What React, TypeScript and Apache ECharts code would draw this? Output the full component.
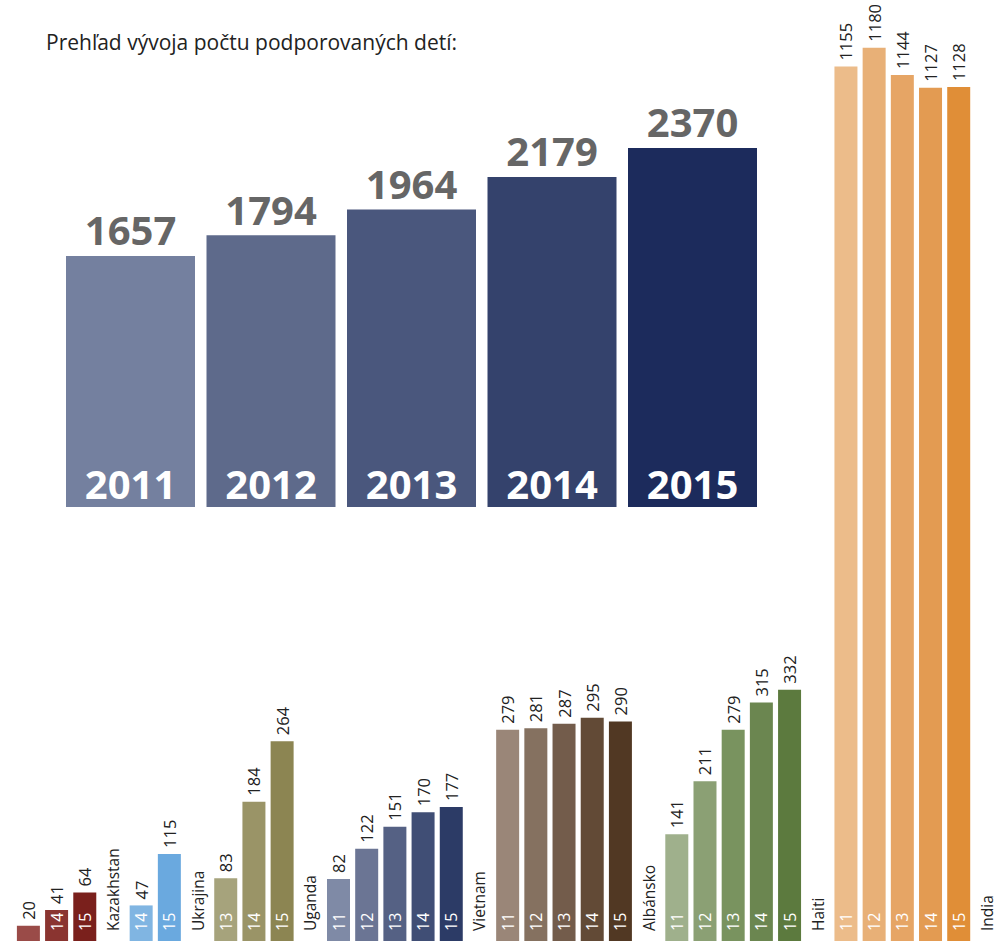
import React, { useEffect, useRef } from "react";
import * as echarts from "echarts";

const TITLE = "Prehľad vývoja počtu podporovaných detí:";

const years = ["2011", "2012", "2013", "2014", "2015"];
const totals = [1657, 1794, 1964, 2179, 2370];
const totalColors = ["#74809f", "#5e6a8b", "#4a577d", "#34426c", "#1c2b5c"];

const countries = ["Kazakhstan", "Ukrajina", "Uganda", "Vietnam", "Albánsko", "Haiti", "India"];
const countryYears = [
  ["13", "14", "15"],
  ["14", "15"],
  ["13", "14", "15"],
  ["11", "12", "13", "14", "15"],
  ["11", "12", "13", "14", "15"],
  ["11", "12", "13", "14", "15"],
  ["11", "12", "13", "14", "15"],
];
const kazakhstan = [20, 41, 64];
const ukrajina = [47, 115];
const uganda = [83, 184, 264];
const vietnam = [82, 122, 151, 170, 177];
const albansko = [279, 281, 287, 295, 290];
const haiti = [141, 211, 279, 315, 332];
const india = [1155, 1180, 1144, 1127, 1128];
const countryValues = [kazakhstan, ukrajina, uganda, vietnam, albansko, haiti, india];

const countryColors = [
  ["#9a4b48", "#8a3430", "#7a201c"],
  ["#80b5e2", "#6aa9df"],
  ["#a6a37c", "#9a9467", "#8c8552"],
  ["#7f8aa6", "#6b7594", "#556184", "#404e75", "#2c3b66"],
  ["#9a8678", "#857160", "#735c4b", "#624a36", "#513823"],
  ["#9fb08c", "#8ba074", "#79935f", "#6b8650", "#5c7a3e"],
  ["#ecbc8a", "#e8b077", "#e6a565", "#e39b52", "#e08e37"],
];

const FONT = "Open Sans";

export default function App() {
  const ref = useRef<HTMLDivElement>(null);

  useEffect(() => {
    if (!ref.current) return;
    const chart = echarts.init(ref.current, undefined, { renderer: "svg" });

    const cats: string[] = [];
    const barData: any[] = [];
    const overlayData: any[] = [];
    countries.forEach((c, ci) => {
      countryValues[ci].forEach((v, i) => {
        cats.push(c + "-" + countryYears[ci][i]);
        barData.push({ value: v, itemStyle: { color: countryColors[ci][i] } });
        overlayData.push({
          value: v,
          name: countryYears[ci][i],
          label: { show: v >= 40, color: "#ffffff", fontSize: 16, formatter: countryYears[ci][i] },
        });
      });
      cats.push(c);
      barData.push({ value: null });
      overlayData.push({
        value: 0,
        name: c,
        label: { show: true, color: "#222222", fontSize: 15.5, formatter: c },
      });
    });

    chart.setOption({
      animation: false,
      title: {
        text: TITLE,
        left: 41,
        top: 26,
        textStyle: { fontFamily: FONT, fontSize: 21, fontWeight: "normal", color: "#222222" },
      },
      grid: [
        { left: 60.25, width: 702.5, top: 128.25, height: 378.75 },
        { left: 14.3, width: 991.7, top: 0, height: 941 },
      ],
      xAxis: [
        { type: "category", gridIndex: 0, data: years, show: false },
        { type: "category", gridIndex: 1, data: cats, show: false },
      ],
      yAxis: [
        { type: "value", gridIndex: 0, min: 0, max: 2500, show: false },
        { type: "value", gridIndex: 1, min: 0, max: 1243, show: false },
      ],
      series: [
        {
          type: "bar",
          xAxisIndex: 0,
          yAxisIndex: 0,
          barWidth: 129,
          data: totals.map((v, i) => ({ value: v, itemStyle: { color: totalColors[i] } })),
          label: {
            show: true,
            position: "top",
            distance: 6,
            color: "#666666",
            fontFamily: FONT,
            fontSize: 40,
            fontWeight: "bold",
          },
        },
        {
          type: "bar",
          xAxisIndex: 0,
          yAxisIndex: 0,
          barWidth: 129,
          barGap: "-100%",
          itemStyle: { color: "transparent" },
          data: totals,
          label: {
            show: true,
            position: "insideBottom",
            distance: 4,
            color: "#ffffff",
            fontFamily: FONT,
            fontSize: 40,
            fontWeight: "bold",
            formatter: (p: any) => years[p.dataIndex],
          },
        },
        {
          type: "bar",
          xAxisIndex: 1,
          yAxisIndex: 1,
          barWidth: 23,
          data: barData,
          label: {
            show: true,
            position: "top",
            rotate: 90,
            align: "left",
            verticalAlign: "middle",
            distance: 6,
            color: "#222222",
            fontFamily: FONT,
            fontSize: 16.5,
          },
        },
        {
          type: "bar",
          xAxisIndex: 1,
          yAxisIndex: 1,
          barWidth: 23,
          barGap: "-100%",
          itemStyle: { color: "transparent" },
          data: overlayData,
          label: {
            show: true,
            position: "insideBottom",
            rotate: 90,
            align: "left",
            verticalAlign: "middle",
            distance: 10,
            fontFamily: FONT,
          },
        },
      ],
    });

    return () => chart.dispose();
  }, []);

  return (
    <div
      ref={ref}
      style={{ position: "absolute", left: 0, top: 0, width: 1001, height: 941, background: "#ffffff" }}
    />
  );
}
